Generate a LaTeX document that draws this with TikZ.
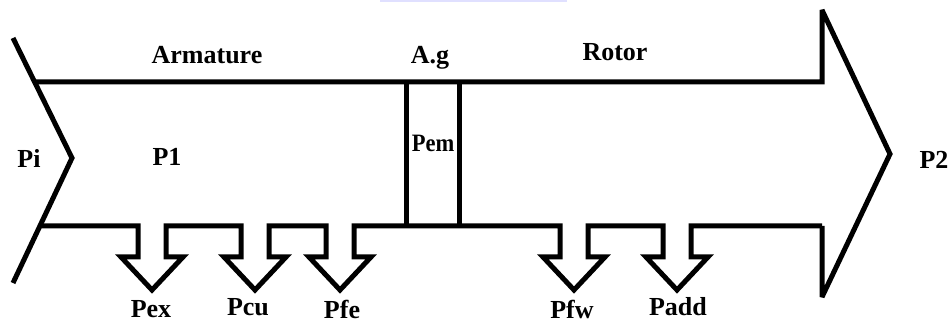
\documentclass[tikz,border=0pt]{standalone}
\usepackage{fontspec}
\setmainfont{Liberation Serif}
\begin{document}
\begin{tikzpicture}[x=1pt, y=-1pt, line width=5pt, line join=miter, miter limit=3,
  lbl/.style={font=\fontsize{26}{30}\selectfont\bfseries, inner sep=0pt}]
\useasboundingbox (0,0) rectangle (951,323);
% strip at top
\fill[blue!12] (380,0) rectangle (567,2.5);
% tail of the flow arrow
\draw (13,38) -- (72,158) -- (13,283);
% upper edge and head
\draw (33,82) -- (822,82) -- (822,10) -- (890,154) -- (822,297) -- (822,226);
% lower edge with the loss arrows
\draw (40,226)
  foreach \c in {152,255,340,574,677} {
    -- (\c-14,226) -- (\c-14,257) -- (\c-31,257) -- (\c,290)
    -- (\c+31,257) -- (\c+14,257) -- (\c+14,226) }
  -- (822,226);
% air gap
\draw (406,82) -- (406,226);
\draw (459,82) -- (459,226);
% labels
\node[lbl] (arm) at (207,55) {Armature};
\node[lbl] (ag) at (430,58) {A.g};
\node[lbl] (rot) at (615,52) {Rotor};
\node[lbl] (pi) at (29,158) {Pi};
\node[lbl] (p1) at (167,157) {P1};
\node[lbl, font=\fontsize{25}{28}\selectfont\bfseries, xscale=0.9] (pem) at (433,143) {Pem};
\node[lbl] (p2) at (934,160) {P2};
\node[lbl] (pex) at (151,309) {Pex};
\node[lbl] (pcu) at (248,307) {Pcu};
\node[lbl] (pfe) at (342,309) {Pfe};
\node[lbl] (pfw) at (572,309) {Pfw};
\node[lbl] (padd) at (678,307) {Padd};
\end{tikzpicture}
\end{document}
